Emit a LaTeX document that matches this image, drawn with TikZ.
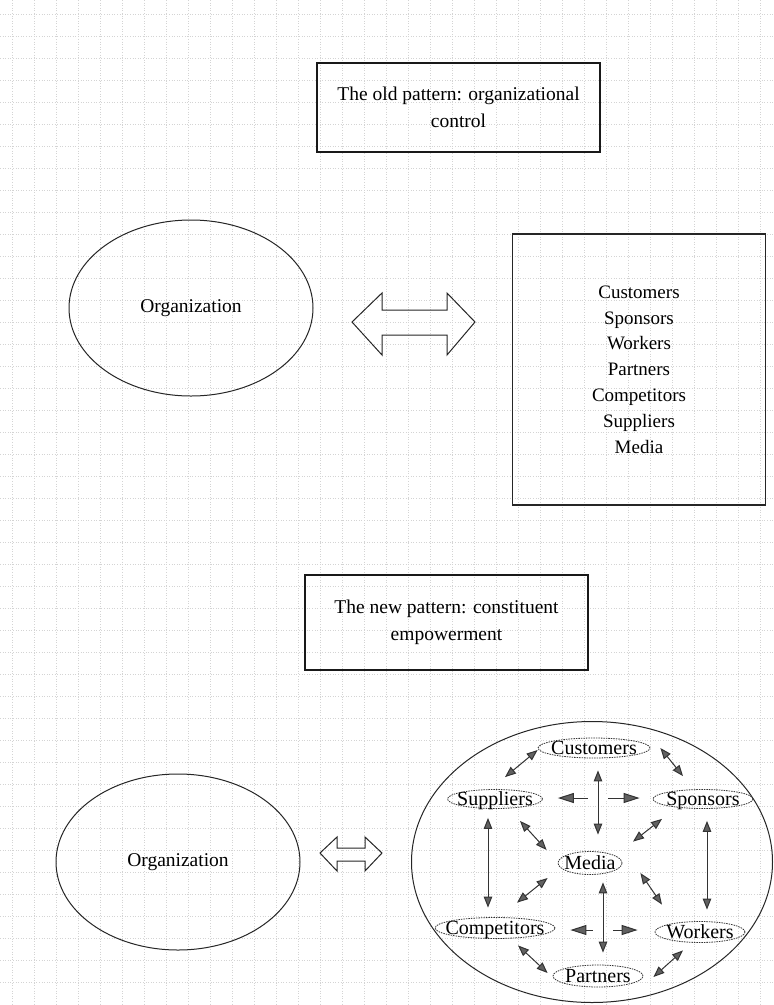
\documentclass[tikz,border=0pt]{standalone}
\usepackage{fontspec}
\setmainfont{Liberation Serif}
\usetikzlibrary{shapes.geometric,arrows.meta,calc}
\newcommand\actlab[1]{\raisebox{-0.34em}[0pt][0pt]{\makebox[0pt]{#1}}}
\tikzset{
  gridline/.style={black!17, line width=0.5pt, dash pattern=on 1pt off 1.6pt},
  titlebox/.style={draw=black!90, line width=1.6pt, minimum width=283pt, align=center,
    font=\fontsize{19.5}{27}\selectfont, inner sep=0pt},
  listbox/.style={draw=black!85, line width=1.3pt, minimum width=253pt, minimum height=271pt,
    align=center, font=\fontsize{19}{25.8}\selectfont, inner sep=0pt},
  orgell/.style={ellipse, draw=black!85, line width=1pt, minimum width=244pt, minimum height=176pt,
    font=\fontsize{19.5}{24}\selectfont, inner sep=0pt},
  bigell/.style={ellipse, draw=black!85, line width=1pt, minimum width=361pt, minimum height=281pt, inner sep=0pt},
  actor/.style={ellipse, draw=black!80, line width=0.8pt, dash pattern=on 1.5pt off 1pt,
    inner sep=0pt, font=\fontsize{20}{24}\selectfont},
  arr/.style={draw=black!80, line width=1pt,
    {Triangle[length=11pt,width=8.5pt,fill=black!62]}-{Triangle[length=11pt,width=8.5pt,fill=black!62]}},
  harr/.style={draw=black!80, line width=1pt,
    {Triangle[length=16pt,width=10pt,fill=black!62]}-{Triangle[length=16pt,width=10pt,fill=black!62]}},
  blockarrow/.style={draw=black!85, line width=1pt, line join=miter},
  gap/.style={fill=white},
}
\begin{document}
\begin{tikzpicture}[x=1pt,y=-1pt]
\useasboundingbox (0,0) rectangle (774,1005);
\fill[white] (0,0) rectangle (774,1005);
% faint graph-paper grid
\foreach \gx in {12,34,...,770} \draw[gridline] (\gx,0) -- (\gx,1005);
\foreach \gy in {14,36,...,1000} \draw[gridline] (0,\gy) -- (774,\gy);

% ---------- old pattern ----------
\node[titlebox, minimum height=89pt] (old) at (458.5,107.5) {The old pattern: organizational\\control};
\node[orgell] (org1) at (191,308) {Organization};
\node[listbox] (list) at (639,369.5) {Customers\\Sponsors\\Workers\\Partners\\Competitors\\Suppliers\\Media};
\draw[blockarrow] (352,322) -- (382,293) -- (382,310) -- (447,310) -- (447,293) -- (475,322)
  -- (447,355) -- (447,335) -- (382,335) -- (382,355) -- cycle;

% ---------- new pattern ----------
\node[titlebox, minimum height=95pt] (new) at (446.5,622.5) {The new pattern: constituent\\empowerment};
\node[orgell] (org2) at (178,862) {Organization};
\node[bigell] (env) at (592,862) {};
\draw[blockarrow] (320,853) -- (337,837) -- (337,848) -- (365,848) -- (365,837) -- (382,853)
  -- (365,871) -- (365,861) -- (337,861) -- (337,871) -- cycle;

\node[actor, minimum width=112pt, minimum height=20pt] (cust)  at (594,748) {\actlab{Customers}};
\node[actor, minimum width=95pt,  minimum height=19pt] (supp)  at (495,799) {\actlab{Suppliers}};
\node[actor, minimum width=100pt, minimum height=19pt] (spon)  at (703,799) {\actlab{Sponsors}};
\node[actor, minimum width=64pt,  minimum height=23pt] (media) at (590,863) {\actlab{Media}};
\node[actor, minimum width=120pt, minimum height=21pt] (comp)  at (495,928) {\actlab{Competitors}};
\node[actor, minimum width=90pt,  minimum height=21pt] (work)  at (700,932) {\actlab{Workers}};
\node[actor, minimum width=90pt,  minimum height=22pt] (part)  at (598,976) {\actlab{Partners}};

% connectors
\draw[arr] ([shift={(0,2)}]cust.west) -- ([shift={(10,-12)}]supp.north);
\draw[arr] ([shift={(10,0)}]cust.east) -- ([shift={(-20,-13)}]spon.north);
\draw[harr] ([shift={(15,-1)}]supp.east) -- ([shift={(-13,-1)}]spon.west);
\fill[gap] (588,795) rectangle (608,801);
\draw[arr] ([shift={(4,12)}]cust.south) -- ([shift={(8,-16.5)}]media.north);
\draw[arr] ([shift={(-7,9)}]supp.south) -- ([shift={(-7,-9.5)}]comp.north);
\draw[arr] ([shift={(25,12)}]supp.south) -- ([shift={(-11,-13)}]media.west);
\draw[arr] ([shift={(-41,10)}]spon.south) -- ([shift={(43,-9.5)}]media.north);
\draw[arr] ([shift={(4,12)}]spon.south) -- ([shift={(7,-11.5)}]work.north);
\draw[arr] ([shift={(-10,15)}]media.west) -- ([shift={(22,-14.5)}]comp.north);
\draw[arr] ([shift={(18,10)}]media.east) -- ([shift={(-38,-16.5)}]work.north);
\draw[harr] ([shift={(15,2)}]comp.east) -- ([shift={(-17,-2)}]work.west);
\fill[gap] (593,927) rectangle (613,933);
\draw[arr] ([shift={(13,7.5)}]media.south) -- ([shift={(5,-12)}]part.north);
\draw[arr] ([shift={(23,6.5)}]comp.south) -- ([shift={(-5,-3)}]part.west);
\draw[arr] ([shift={(-17,7.5)}]work.south) -- ([shift={(10,1)}]part.east);
\end{tikzpicture}
\end{document}
